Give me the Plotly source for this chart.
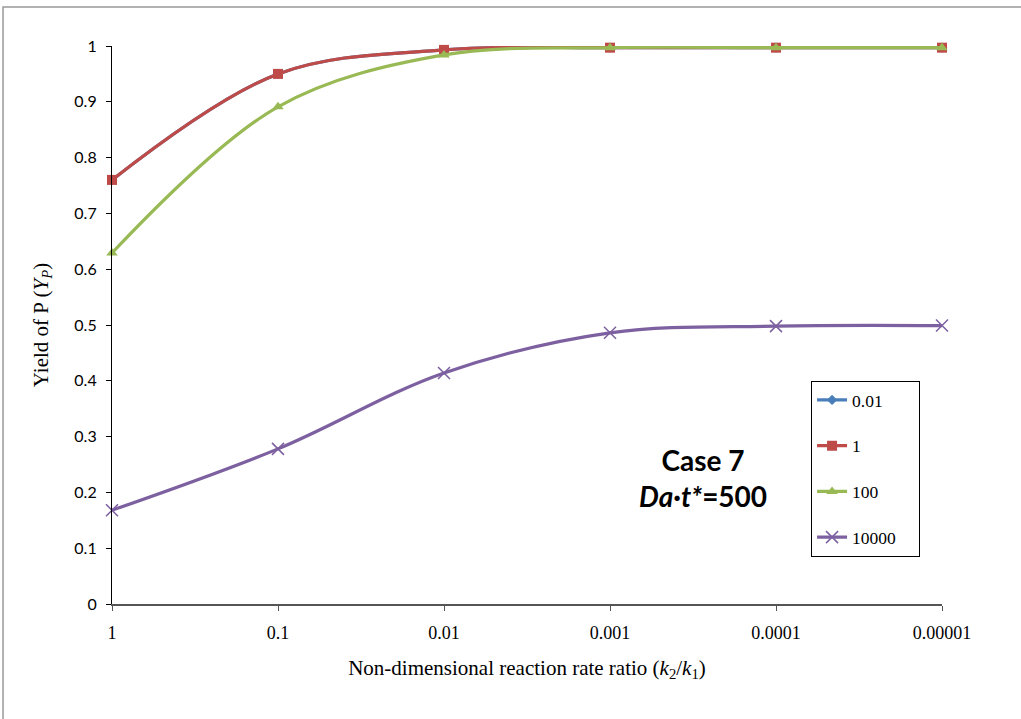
import plotly.graph_objects as go

# Rate ratio categories (evenly spaced on the horizontal axis)
ratio_labels = ["1", "0.1", "0.01", "0.001", "0.0001", "0.00001"]

# Yield of P for each Da value
series_names = ["0.01", "1", "100", "10000"]
yield_001 = [0.760, 0.950, 0.993, 0.997, 0.997, 0.997]
yield_1 = [0.760, 0.950, 0.993, 0.997, 0.997, 0.997]
yield_100 = [0.629, 0.891, 0.984, 0.997, 0.997, 0.997]
yield_10000 = [0.168, 0.278, 0.414, 0.486, 0.498, 0.499]

y_ticks = [0, 0.1, 0.2, 0.3, 0.4, 0.5, 0.6, 0.7, 0.8, 0.9, 1]
y_tick_text = ["0", "0.1", "0.2", "0.3", "0.4", "0.5", "0.6", "0.7", "0.8", "0.9", "1"]

styles = [
    dict(color="#4A7EBB", symbol="diamond", size=8),
    dict(color="#BE4B48", symbol="square", size=10),
    dict(color="#98B954", symbol="triangle-up", size=10),
    dict(color="#7D60A0", symbol="x-thin-open", size=12),
]
all_series = [yield_001, yield_1, yield_100, yield_10000]

fig = go.Figure()
for name, vals, st in zip(series_names, all_series, styles):
    marker = dict(symbol=st["symbol"], size=st["size"], color=st["color"])
    if st["symbol"] == "x-thin-open":
        marker["line"] = dict(color=st["color"], width=1.5)
    fig.add_trace(go.Scatter(
        x=ratio_labels, y=vals, name=name + "\u00a0\u00a0\u00a0\u00a0",
        legendgroup=name, cliponaxis=False,
        mode="lines+markers",
        line=dict(color=st["color"], width=3.2, shape="spline", smoothing=1.0),
        marker=marker,
    ))

fig.update_layout(
    width=1021, height=719,
    margin=dict(l=112, r=79, t=46, b=115),
    paper_bgcolor="white", plot_bgcolor="white",
    showlegend=True,
    legend=dict(
        x=0.842, y=0.4, xanchor="left", yanchor="top",
        bordercolor="black", borderwidth=1.2, bgcolor="white",
        font=dict(family="Liberation Serif", size=17.5, color="black"),
        traceorder="grouped", tracegroupgap=20,
        itemwidth=30,
    ),
    xaxis=dict(
        type="category", range=[0, 5],
        showline=True, linecolor="#555555", linewidth=1.5,
        ticks="outside", ticklen=5, tickcolor="#555555",
        showgrid=False, zeroline=False,
        ticklabelstandoff=7,
        tickfont=dict(family="Liberation Serif", size=18, color="black"),
        title=dict(
            text="Non-dimensional reaction rate ratio (<i>k</i><sub>2</sub>/<i>k</i><sub>1</sub>)",
            font=dict(family="Liberation Serif", size=21, color="black"),
            standoff=18,
        ),
    ),
    yaxis=dict(
        range=[0, 1], tickvals=y_ticks, ticktext=y_tick_text,
        showline=True, linecolor="black", linewidth=1.2,
        ticks="outside", ticklen=5, tickcolor="black",
        showgrid=False, zeroline=False,
        ticklabelstandoff=6,
        tickfont=dict(family="Lato", size=16, color="black"),
        title=dict(
            text="Yield of P (<i>Y<sub>P</sub></i>)",
            font=dict(family="Liberation Serif", size=21, color="black"),
            standoff=20,
        ),
    ),
    annotations=[
        dict(x=0.712, y=0.226, xref="paper", yref="paper",
             xanchor="center", yanchor="middle",
             text="<b>Case 7</b><br><b><i>Da</i>·<i>t*</i>=500</b>",
             showarrow=False, align="center",
             font=dict(family="Lato", size=28, color="black")),
    ],
    shapes=[
        dict(type="rect", xref="paper", yref="paper",
             x0=-0.1313, x1=1.3, y0=-0.3, y1=1.0699,
             line=dict(color="#999999", width=1.5), layer="below"),
    ],
)

fig.write_html("out.html")
